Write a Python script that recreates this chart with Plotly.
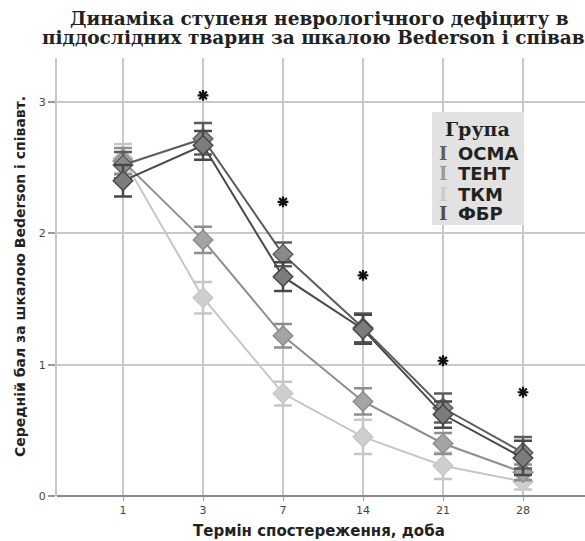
import plotly.graph_objects as go

days = ["1", "3", "7", "14", "21", "28"]
groups = ["ОСМА", "ТЕНТ", "ТКМ", "ФБР"]
osma = [2.52, 2.72, 1.84, 1.28, 0.67, 0.33]
osma_err = [0.10, 0.12, 0.09, 0.11, 0.11, 0.12]
tent = [2.55, 1.95, 1.22, 0.72, 0.40, 0.18]
tent_err = [0.10, 0.10, 0.09, 0.10, 0.08, 0.06]
tkm = [2.57, 1.51, 0.78, 0.45, 0.23, 0.11]
tkm_err = [0.11, 0.12, 0.09, 0.13, 0.10, 0.06]
fbr = [2.40, 2.67, 1.67, 1.27, 0.62, 0.29]
fbr_err = [0.12, 0.11, 0.11, 0.11, 0.10, 0.13]
sig_y = [None, 3.05, 2.24, 1.68, 1.03, 0.79]
y_ticks = [0, 1, 2, 3]

colors = {"ОСМА": "#5c5c5c", "ТЕНТ": "#8e8e8e", "ТКМ": "#c6c6c6", "ФБР": "#484848"}
fills = {"ОСМА": "#8a8a8a", "ТЕНТ": "#a4a4a4", "ТКМ": "#cfcfcf", "ФБР": "#7c7c7c"}
legend_I = {"ОСМА": "#5e5e5e", "ТЕНТ": "#9a9a9a", "ТКМ": "#cdcdcd", "ФБР": "#505050"}
series = {"ОСМА": (osma, osma_err), "ТЕНТ": (tent, tent_err), "ТКМ": (tkm, tkm_err), "ФБР": (fbr, fbr_err)}

W, H = 585, 541
# plot area in pixels
L, R, T, B = 57, 585, 58, 496

def px(x):
    return (x - L) / (R - L)

def py(y):
    return (B - y) / (B - T)

fig = go.Figure()
for g in ["ТКМ", "ТЕНТ", "ОСМА", "ФБР"]:
    vals, errs = series[g]
    fig.add_trace(go.Scatter(
        x=days, y=vals, mode="lines+markers", name=g, showlegend=False,
        line=dict(color=colors[g], width=2),
        marker=dict(symbol="diamond", size=15, color=fills[g], line=dict(color=colors[g], width=1.5)),
        error_y=dict(type="data", array=errs, visible=True, color=colors[g], thickness=2.5, width=9),
    ))

fig.add_trace(go.Scatter(
    x=days, y=sig_y, mode="markers", showlegend=False,
    marker=dict(symbol="asterisk-open", size=9, color="#111", line=dict(color="#111", width=2.2)),
))

fig.update_layout(
    width=W, height=H,
    margin=dict(l=L, r=W - R, t=T, b=H - B, pad=0),
    paper_bgcolor="white", plot_bgcolor="white",
    showlegend=False,
    font=dict(family="DejaVu Sans", color="#333"),
)
fig.update_xaxes(
    type="category", range=[-0.825, (R - 123) / 80],
    showgrid=True, gridcolor="#c8c8c8", gridwidth=2,
    showline=False, zeroline=False,
    ticks="outside", ticklen=4, tickcolor="#aaa", tickwidth=1,
    tickfont=dict(size=11, color="#444"),
)
fig.update_yaxes(
    range=[0, 3.335], tickvals=y_ticks,
    showgrid=True, gridcolor="#c8c8c8", gridwidth=2,
    showline=True, linecolor="#c8c8c8", linewidth=2,
    zeroline=True, zerolinecolor="#8a8a8a", zerolinewidth=2,
    ticks="outside", ticklen=7, tickcolor="#999", tickwidth=1.5,
    tickfont=dict(size=11, color="#444"),
)

# legend box
fig.add_shape(type="rect", xref="paper", yref="paper",
              x0=px(432), x1=px(524), y0=py(225), y1=py(112),
              fillcolor="#e2e2e2", line=dict(width=0), layer="above")
fig.add_annotation(xref="paper", yref="paper", x=px(477), y=py(129),
                   xanchor="center", yanchor="middle",
                   text="<b>Група</b>", showarrow=False,
                   font=dict(family="DejaVu Serif", size=19, color="#222"))
item_y = [153, 173, 194, 213]
for g, yy in zip(groups, item_y):
    fig.add_annotation(xref="paper", yref="paper", x=px(443), y=py(yy),
                       xanchor="center", yanchor="middle",
                       text="<b>I</b>", showarrow=False,
                       font=dict(family="DejaVu Serif", size=18, color=legend_I[g]))
    fig.add_annotation(xref="paper", yref="paper", x=px(456), y=py(yy),
                       xanchor="left", yanchor="middle",
                       text="<b>" + g + "</b>", showarrow=False,
                       font=dict(family="DejaVu Sans", size=18, color="#222"))

# title lines
fig.add_annotation(xref="paper", yref="paper", x=px(68), y=py(18),
                   xanchor="left", yanchor="middle",
                   text="<b>Динаміка ступеня неврологічного дефіциту в</b>", showarrow=False,
                   font=dict(family="DejaVu Serif", size=18.5, color="#222"))
fig.add_annotation(xref="paper", yref="paper", x=px(40), y=py(37),
                   xanchor="left", yanchor="middle",
                   text="<b>піддослідних тварин за шкалою Bederson і співавт.</b>", showarrow=False,
                   font=dict(family="DejaVu Serif", size=18.5, color="#222"))

# axis titles
fig.add_annotation(xref="paper", yref="paper", x=px(319), y=py(531),
                   xanchor="center", yanchor="middle",
                   text="<b>Термін спостереження, доба</b>", showarrow=False,
                   font=dict(family="DejaVu Sans", size=15, color="#222"))
fig.add_annotation(xref="paper", yref="paper", x=px(20), y=py(277), textangle=-90,
                   xanchor="center", yanchor="middle",
                   text="<b>Середній бал за шкалою Bederson і співавт.</b>", showarrow=False,
                   font=dict(family="DejaVu Sans", size=14, color="#222"))

fig.write_html("out.html", config={"displayModeBar": False},
               post_script="document.body.style.margin='0';")
